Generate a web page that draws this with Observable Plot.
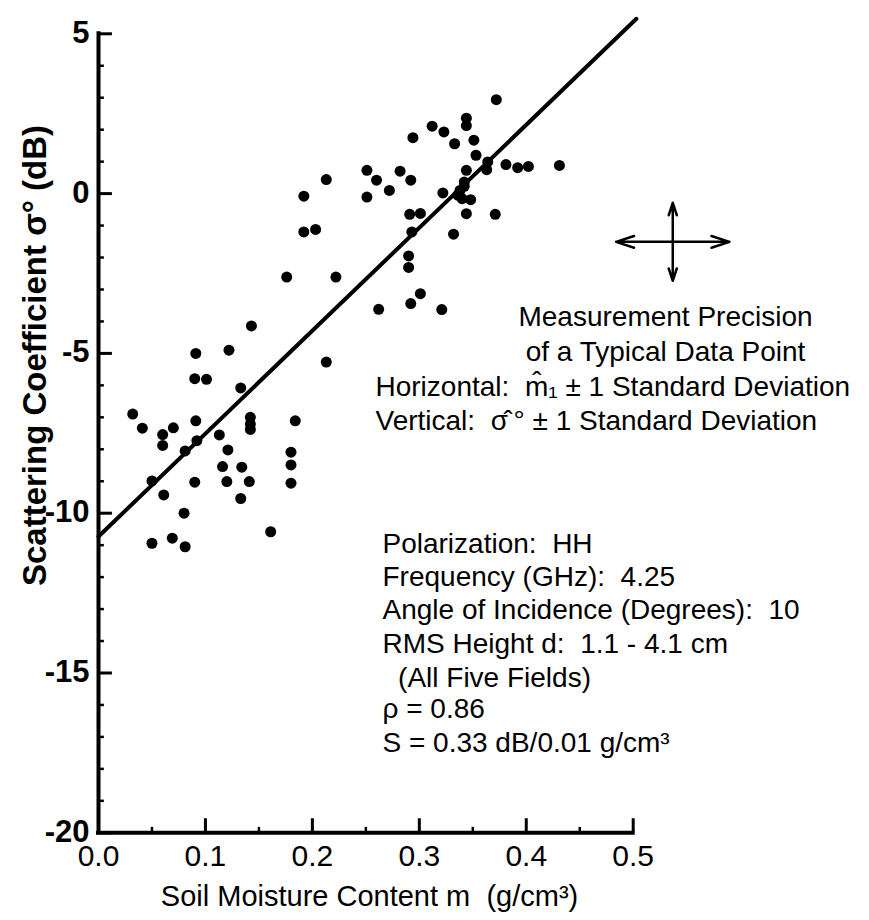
<!DOCTYPE html>
<html><head><meta charset="utf-8">
<script src="https://cdn.jsdelivr.net/npm/d3@7"></script>
<script src="https://cdn.jsdelivr.net/npm/@observablehq/plot@0.6"></script>
<style>
html,body{margin:0;padding:0;background:#fff;}
#chart svg{display:block;}
</style></head><body><div id="chart"></div>
<script>
// Soil moisture content m (g/cm^3)
const moisture = [0.143,0.091,0.122,0.090,0.101,0.133,0.032,0.041,0.060,0.070,0.060,0.091,0.092,0.081,0.113,0.121,0.142,0.142,0.142,0.116,0.134,0.120,0.141,0.090,0.050,0.061,0.133,0.080,0.161,0.050,0.069,0.081,
  0.213,0.184,0.180,0.180,0.180,
  0.312,0.294,0.323,0.251,0.260,0.272,0.282,0.292,0.213,0.192,0.251,0.291,0.301,0.293,0.192,0.203,0.290,0.290,0.176,0.222,0.301,0.292,0.262,0.321,
  0.372,0.344,0.344,0.333,0.351,0.353,0.364,0.363,0.381,0.392,0.402,0.431,0.344,0.342,0.342,0.322,0.336,0.340,0.348,0.338,0.344,0.371,0.332];
// Scattering coefficient sigma0 (dB)
const sigma = [-4.14,-5.00,-4.90,-5.79,-5.81,-6.08,-6.90,-7.34,-7.54,-7.33,-7.88,-7.11,-7.73,-8.05,-7.55,-8.02,-7.00,-7.21,-7.38,-8.54,-8.56,-9.01,-9.01,-9.03,-8.99,-9.43,-9.54,-10.0,-10.58,-10.94,-10.78,-11.05,
  -5.27,-7.11,-8.09,-8.49,-9.06,
  2.11,1.75,1.93,0.73,0.42,0.10,0.70,0.42,0.44,-0.08,-0.11,-0.65,-0.62,-1.20,-1.20,-1.12,-1.95,-2.31,-2.61,-2.61,-3.13,-3.44,-3.62,-3.63,
  2.94,2.36,2.13,1.56,1.67,1.20,0.99,0.75,0.91,0.81,0.85,0.88,0.73,0.36,0.23,0.02,-0.05,-0.16,-0.19,0.10,-0.63,-0.65,-1.27];

// Regression line end points
const fitX = [0, 0.503];
const fitY = [-10.73, 5.47];

// Ticks
const yMajorTicks = [5, 0, -5, -10, -15, -20];
const yMinorTicks = [4,3,2,1,-1,-2,-3,-4,-6,-7,-8,-9,-11,-12,-13,-14,-16,-17,-18,-19];
const xMajorTicks = [0, 0.1, 0.2, 0.3, 0.4, 0.5];
const xMinorTicks = [0.05, 0.15, 0.25, 0.35, 0.45];
const xTickLabels = ["0.0", "0.1", "0.2", "0.3", "0.4", "0.5"];
const yTickLabels = ["5", "0", "-5", "-10", "-15", "-20"];

// Typical measurement precision (cross symbol)
const precisionCenter = {x: 0.537, y: -1.51};
const precisionHalfX = 0.053;
const precisionHalfY = 1.22;

const yTitle = "Scattering Coefficient \u03C3\u00B0 (dB)";
const xTitle = "Soil Moisture Content m  (g/cm\u00B3)";
const precisionLines = [
  "Measurement Precision",
  "of a Typical Data Point",
  "Horizontal:  m\u0302\u2081 \u00B1 1 Standard Deviation",
  "Vertical:  \u03C3\u0302\u2009\u00B0 \u00B1 1 Standard Deviation"
];
const infoLines = [
  "Polarization:  HH",
  "Frequency (GHz):  4.25",
  "Angle of Incidence (Degrees):  10",
  "RMS Height d:  1.1 - 4.1 cm",
  "  (All Five Fields)",
  "\u03C1 = 0.86",
  "S = 0.33 dB/0.01 g/cm\u00B3"
];

const FONT = "'Liberation Sans', Arial, sans-serif";
const W = 869, H = 920;
const mL = 98, mR = 236.3, mT = 33.3, mB = 87.7;

const points = moisture.map((m, i) => ({m, s: sigma[i]}));
const fit = fitX.map((x, i) => ({x, y: fitY[i]}));
const c = precisionCenter;
const arrows = [
  {x1: c.x, y1: c.y, x2: c.x - precisionHalfX, y2: c.y},
  {x1: c.x, y1: c.y, x2: c.x + precisionHalfX, y2: c.y},
  {x1: c.x, y1: c.y, x2: c.x, y2: c.y + precisionHalfY},
  {x1: c.x, y1: c.y, x2: c.x, y2: c.y - precisionHalfY}
];

// pixel layout of annotation text
const precisionPos = [
  {px: 665, py: 325, anchor: "middle"},
  {px: 665, py: 360, anchor: "middle"},
  {px: 375, py: 395, anchor: "start"},
  {px: 375, py: 429, anchor: "start"}
];
const infoBase = [552, 585, 618, 652, 686, 717, 751];

const marks = [
  // axes lines
  Plot.ruleX([0], {y1: -20, y2: 5, stroke: "black", strokeWidth: 4, strokeLinecap: "square"}),
  Plot.ruleY([-20], {x1: 0, x2: 0.5, stroke: "black", strokeWidth: 4, strokeLinecap: "square"}),
  // y ticks (inward)
  Plot.ruleY(yMajorTicks, {x1: 0, x2: 0.013, stroke: "black", strokeWidth: 3}),
  Plot.ruleY(yMinorTicks, {x1: 0, x2: 0.0055, stroke: "black", strokeWidth: 2.5}),
  // x ticks (inward)
  Plot.ruleX(xMajorTicks.slice(1), {y1: -20, y2: -19.56, stroke: "black", strokeWidth: 3}),
  Plot.ruleX(xMinorTicks, {y1: -20, y2: -19.83, stroke: "black", strokeWidth: 2.5}),
  // tick labels
  Plot.text(yMajorTicks, {x: 0, y: d => d, text: (d, i) => yTickLabels[i], textAnchor: "end", dx: -9, dy: -1,
    fontSize: 31, fontWeight: "bold", fontFamily: FONT, fill: "black"}),
  Plot.text(xMajorTicks, {x: d => d, y: -20, text: (d, i) => xTickLabels[i], dy: 24,
    fontSize: 30, fontFamily: FONT, fill: "black"}),
  // axis titles
  Plot.text([yTitle], {frameAnchor: "top-left", dx: 35 - mL, dy: 355 - mT, rotate: -90, text: d => d,
    textAnchor: "middle", lineAnchor: "middle",
    fontSize: 33, fontWeight: "bold", fontFamily: FONT, fill: "black"}),
  Plot.text([xTitle], {frameAnchor: "top-left", dx: 369 - mL, dy: 905 - mT, text: d => d,
    textAnchor: "middle", lineAnchor: "bottom",
    fontSize: 29, fontFamily: FONT, fill: "black"}),
  // regression line
  Plot.line(fit, {x: "x", y: "y", stroke: "black", strokeWidth: 4}),
  // data points
  Plot.dot(points, {x: "m", y: "s", r: 5.5, fill: "black", stroke: "none"}),
  // precision cross
  Plot.arrow(arrows, {x1: "x1", y1: "y1", x2: "x2", y2: "y2", stroke: "black", strokeWidth: 2.5,
    headLength: 13, headAngle: 36}),
  // annotation text
  ...precisionLines.map((t, i) => Plot.text([t], {frameAnchor: "top-left", dx: precisionPos[i].px - mL, dy: precisionPos[i].py - mT,
    text: d => d, textAnchor: precisionPos[i].anchor, lineAnchor: "bottom", fontSize: 28, fontFamily: FONT, fill: "black"})),
  ...infoLines.map((t, i) => Plot.text([t], {frameAnchor: "top-left", dx: 382 - mL, dy: infoBase[i] - mT,
    text: d => d, textAnchor: "start", lineAnchor: "bottom", fontSize: 28, fontFamily: FONT, fill: "black"}))
];

const chart = Plot.plot({
  width: W, height: H,
  marginLeft: mL, marginRight: mR, marginTop: mT, marginBottom: mB,
  x: {domain: [0, 0.5], axis: null},
  y: {domain: [-20, 5], axis: null},
  style: {background: "white", overflow: "visible", fontFamily: FONT},
  marks
});
document.getElementById("chart").appendChild(chart);
</script>
</body></html>
